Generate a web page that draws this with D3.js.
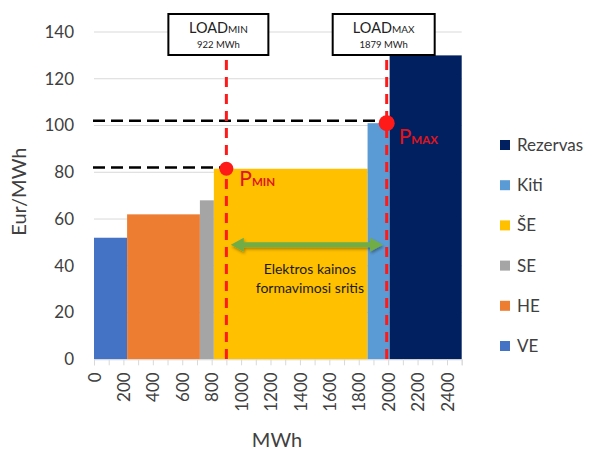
<!DOCTYPE html>
<html><head><meta charset="utf-8">
<script src="https://cdn.jsdelivr.net/npm/d3@7"></script>
<style>
html,body{margin:0;padding:0;background:#fff;}
svg{display:block;font-family:Lato,"Open Sans",sans-serif;}
</style></head>
<body>
<svg id="chart" width="595" height="450"></svg>
<script>
// ---- data ----
const categories = ["VE", "HE", "SE", "ŠE", "Kiti", "Rezervas"];
const colors = ["#4472c4", "#ed7d31", "#a5a5a5", "#ffc000", "#5b9bd5", "#002060"];
const cumulativeMWh = [225, 720, 815, 1860, 2010, 2500];
const prices = [52, 62, 68, 81.5, 101, 130];
const yTickValues = [0, 20, 40, 60, 80, 100, 120, 140];
const xLabelValues = [0, 200, 400, 600, 800, 1000, 1200, 1400, 1600, 1800, 2000, 2200, 2400];
const loadNames = ["MIN", "MAX"];
const loadLabels = ["922 MWh", "1879 MWh"];
const loadMWh = [900, 1990];
const pointPrices = [81.5, 101];
const dashPrices = [82, 102];
const arrowMWh = [930, 1965];
const arrowPrice = 49;
const arrowText = ["Elektros kainos", "formavimosi sritis"];

// ---- layout ----
const svg = d3.select("#chart");
const x = d3.scaleLinear().domain([0, 2500]).range([94, 461.7]);
const y = d3.scaleLinear().domain([0, 140]).range([359.3, 32]);
const red = "#ff1a1a", redText = "#e0141c", txt = "#404040";

const defs = svg.append("defs");
const f = defs.append("filter").attr("id", "shadow").attr("x", "-10%").attr("y", "-50%").attr("width", "120%").attr("height", "200%");
f.append("feDropShadow").attr("dx", 1).attr("dy", 2).attr("stdDeviation", 1.5).attr("flood-color", "#000").attr("flood-opacity", 0.35);

// gridlines
svg.append("g").selectAll("line").data(yTickValues.filter(d => d > 0)).join("line")
  .attr("x1", x(0)).attr("x2", x(2500)).attr("y1", d => y(d)).attr("y2", d => y(d))
  .attr("stroke", "#d9d9d9").attr("stroke-width", 1);

// y axis labels
const yAxis = d3.axisLeft(y).tickValues(yTickValues).tickSize(0).tickPadding(20);
svg.append("g").attr("transform", `translate(${x(0)},0)`).call(yAxis)
  .call(g => g.select(".domain").remove())
  .call(g => g.selectAll("text").attr("fill", txt).attr("font-size", 17).attr("font-family", "Lato"));

// bars
const starts = cumulativeMWh.map((d, i) => i === 0 ? 0 : cumulativeMWh[i - 1]);
svg.append("g").selectAll("rect").data(categories).join("rect")
  .attr("x", (d, i) => x(starts[i]))
  .attr("width", (d, i) => x(cumulativeMWh[i]) - x(starts[i]))
  .attr("y", (d, i) => y(prices[i]))
  .attr("height", (d, i) => y(0) - y(prices[i]))
  .attr("fill", (d, i) => colors[i]);

// x axis
const xAxis = d3.axisBottom(x).tickValues(d3.range(0, 2501, 100)).tickSize(6).tickPadding(0)
  .tickFormat(d => xLabelValues.includes(d) ? String(d) : "");
svg.append("g").attr("transform", `translate(0,${y(0)})`).call(xAxis)
  .call(g => g.select(".domain").attr("stroke", "#d9d9d9"))
  .call(g => g.selectAll(".tick line").attr("stroke", "#d9d9d9"))
  .call(g => g.selectAll("text").attr("fill", txt).attr("font-size", 17).attr("font-family", "Lato")
    .attr("transform", "rotate(-90)").attr("text-anchor", "end").attr("x", -13).attr("y", 0).attr("dy", "0.36em"));

// axis titles
svg.append("text").attr("transform", `translate(26,${(y(0) + y(140)) / 2 - 4}) rotate(-90)`)
  .attr("text-anchor", "middle").attr("font-size", 20).attr("fill", txt).text("Eur/MWh");
svg.append("text").attr("x", 277).attr("y", 447).attr("text-anchor", "middle")
  .attr("font-size", 20).attr("fill", txt).text("MWh");

// black dashed price lines
svg.append("g").selectAll("line").data(dashPrices).join("line")
  .attr("x1", x(0) - 1).attr("x2", (d, i) => x(loadMWh[i]) - 2)
  .attr("y1", d => y(d)).attr("y2", d => y(d))
  .attr("stroke", "#000").attr("stroke-width", 2.5).attr("stroke-dasharray", "12,6");

// red dashed load lines
svg.append("g").selectAll("line").data(loadMWh).join("line")
  .attr("x1", d => x(d)).attr("x2", d => x(d)).attr("y1", 60).attr("y2", y(0) + 2)
  .attr("stroke", red).attr("stroke-width", 3).attr("stroke-dasharray", "10,7");

// green double arrow
const ax0 = x(arrowMWh[0]), ax1 = x(arrowMWh[1]), ay = y(arrowPrice);
const hl = 13, hw = 7, sw = 2.6;
svg.append("path").attr("filter", "url(#shadow)").attr("fill", "#70ad47")
  .attr("d", `M${ax0},${ay} L${ax0 + hl},${ay - hw} L${ax0 + hl},${ay - sw} L${ax1 - hl},${ay - sw} L${ax1 - hl},${ay - hw} L${ax1},${ay} L${ax1 - hl},${ay + hw} L${ax1 - hl},${ay + sw} L${ax0 + hl},${ay + sw} L${ax0 + hl},${ay + hw} Z`);
svg.append("g").selectAll("text").data(arrowText).join("text")
  .attr("x", (ax0 + ax1) / 2 + 3).attr("y", (d, i) => ay + 29 + i * 19)
  .attr("text-anchor", "middle").attr("font-size", 14).attr("fill", "#1a1a1a").text(d => d);

// red points
svg.append("g").selectAll("circle").data(pointPrices).join("circle")
  .attr("cx", (d, i) => x(loadMWh[i])).attr("cy", d => y(d)).attr("r", (d, i) => i === 0 ? 7 : 8)
  .attr("fill", red);

// P labels
const pl = svg.append("g").selectAll("text").data(loadNames).join("text")
  .attr("x", (d, i) => x(loadMWh[i]) + (i === 0 ? 13 : 12))
  .attr("y", (d, i) => y(pointPrices[i]) + (i === 0 ? 17 : 21))
  .attr("fill", redText).attr("font-size", 21);
pl.append("tspan").text("P");
pl.append("tspan").attr("font-size", 11.5).attr("font-weight", "bold").text(d => d);

// LOAD boxes
const boxW = [100, 102], boxOff = [-8, -3];
const boxes = svg.append("g").selectAll("g").data(loadNames).join("g")
  .attr("transform", (d, i) => `translate(${x(loadMWh[i]) + boxOff[i]},0)`);
boxes.append("rect").attr("x", (d, i) => -boxW[i] / 2).attr("y", 14).attr("width", (d, i) => boxW[i]).attr("height", 41)
  .attr("fill", "#fff").attr("stroke", "#000").attr("stroke-width", 2);
const lt = boxes.append("text").attr("x", 0).attr("y", 33).attr("text-anchor", "middle")
  .attr("fill", "#222").attr("font-size", 14.5);
lt.append("tspan").text("LOAD");
lt.append("tspan").attr("font-size", 10).text(d => d);
boxes.append("text").attr("x", 0).attr("y", 48).attr("text-anchor", "middle")
  .attr("fill", "#222").attr("font-size", 9.5).text((d, i) => loadLabels[i]);

// legend
const legOrder = d3.range(categories.length).reverse();
const leg = svg.append("g").selectAll("g").data(legOrder).join("g")
  .attr("transform", (d, k) => `translate(500,${145 + k * 40.2})`);
leg.append("rect").attr("x", 0).attr("y", -5).attr("width", 10).attr("height", 10).attr("fill", d => colors[d]);
leg.append("text").attr("x", 17).attr("y", 0).attr("dy", "0.35em").attr("font-size", 17)
  .attr("fill", txt).text(d => categories[d]);
</script>
</body></html>
